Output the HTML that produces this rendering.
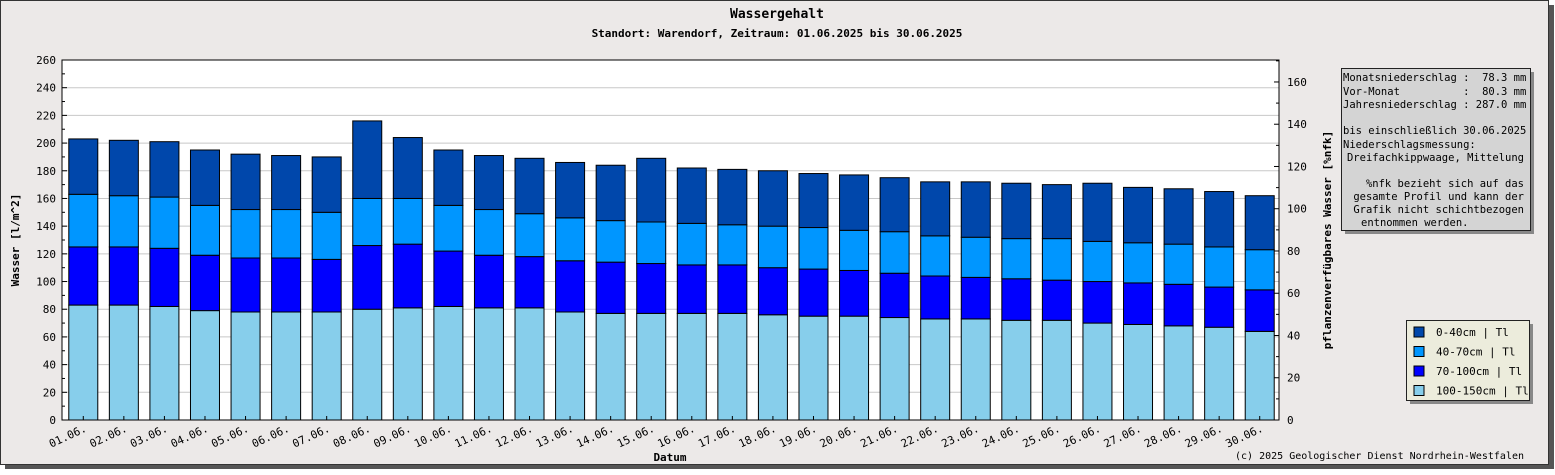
<!DOCTYPE html>
<html><head><meta charset="utf-8"><style>
body{margin:0;background:#fff;}
svg text{font-family:"DejaVu Sans Mono","Liberation Mono",monospace;}
</style></head><body>
<svg id="chart" width="1555" height="470" xmlns="http://www.w3.org/2000/svg">
<rect x="0" y="0" width="1555" height="470" fill="#ffffff"/>
<rect x="5" y="5" width="1549" height="464" fill="#555"/>
<rect x="0.5" y="0.5" width="1548" height="464" fill="#ece9e8" stroke="#333"/>
<text x="777" y="18" text-anchor="middle" font-size="13" font-weight="bold">Wassergehalt</text>
<text x="777" y="37" text-anchor="middle" font-size="11" font-weight="bold">Standort: Warendorf, Zeitraum: 01.06.2025 bis 30.06.2025</text>
<rect x="62" y="60" width="1217" height="360" fill="#fff"/>
<g id="grid"></g><g id="bars"></g><g id="axes"></g>
<text transform="translate(19,240) rotate(-90)" text-anchor="middle" font-size="11" font-weight="bold">Wasser [l/m^2]</text>
<text transform="translate(1331,240) rotate(-90)" text-anchor="middle" font-size="11" font-weight="bold">pflanzenverfügbares Wasser [%nfk]</text>
<text x="670" y="461" text-anchor="middle" font-size="11" font-weight="bold">Datum</text>
<text x="1524" y="459" text-anchor="end" font-size="10">(c) 2025 Geologischer Dienst Nordrhein-Westfalen</text>
<g>
<rect x="1345" y="72" width="189" height="162" fill="#888"/>
<rect x="1341.5" y="68.5" width="189" height="162" fill="#d4d4d4" stroke="#222"/>
<g font-size="10.5">
<text x="1343" y="81" xml:space="preserve">Monatsniederschlag :  78.3 mm</text>
<text x="1343" y="95" xml:space="preserve">Vor-Monat          :  80.3 mm</text>
<text x="1343" y="108" xml:space="preserve">Jahresniederschlag : 287.0 mm</text>
<text x="1343" y="134">bis einschließlich 30.06.2025</text>
<text x="1343" y="148">Niederschlagsmessung:</text>
<text x="1524" y="161" text-anchor="end">Dreifachkippwaage, Mittelung</text>
<text x="1524" y="187" text-anchor="end">%nfk bezieht sich auf das</text>
<text x="1524" y="200" text-anchor="end">gesamte Profil und kann der</text>
<text x="1524" y="213" text-anchor="end">Grafik nicht schichtbezogen</text>
<text x="1361" y="226">entnommen werden.</text>
</g></g>
<g id="legend">
<rect x="1410" y="324" width="123" height="80" fill="#888"/>
<rect x="1406.5" y="320.5" width="123" height="80" fill="#ececdc" stroke="#222"/>
</g>
</svg>
<script>
const dates=["01.06.","02.06.","03.06.","04.06.","05.06.","06.06.","07.06.","08.06.","09.06.","10.06.","11.06.","12.06.","13.06.","14.06.","15.06.","16.06.","17.06.","18.06.","19.06.","20.06.","21.06.","22.06.","23.06.","24.06.","25.06.","26.06.","27.06.","28.06.","29.06.","30.06."];
const layer100150=[83,83,82,79,78,78,78,80,81,82,81,81,78,77,77,77,77,76,75,75,74,73,73,72,72,70,69,68,67,64];
const layer70100=[42,42,42,40,39,39,38,46,46,40,38,37,37,37,36,35,35,34,34,33,32,31,30,30,29,30,30,30,29,30];
const layer4070=[38,37,37,36,35,35,34,34,33,33,33,31,31,30,30,30,29,30,30,29,30,29,29,29,30,29,29,29,29,29];
const layer040=[40,40,40,40,40,39,40,56,44,40,39,40,40,40,46,40,40,40,39,40,39,39,40,40,39,42,40,40,40,39];
const leftTicks=[0,20,40,60,80,100,120,140,160,180,200,220,240,260];
const rightTicks=[0,20,40,60,80,100,120,140,160];
const legendLabels=["0-40cm | Tl","40-70cm | Tl","70-100cm | Tl","100-150cm | Tl"];
const colors=["#0047ab","#0096ff","#0000ff","#87ceeb"];
const NS="http://www.w3.org/2000/svg";
const X0=62,X1=1279,Y0=420,Y1=60,YMAX=260,Y2MAX=170.4;
const y=v=>Y0-v/YMAX*(Y0-Y1);
const y2=v=>Y0-v/Y2MAX*(Y0-Y1);
const band=(X1-X0)/dates.length;
const xc=i=>X0+band*(i+0.5)+1;
function mk(tag,attrs,parent,txt){const e=document.createElementNS(NS,tag);for(const k in attrs)e.setAttribute(k,attrs[k]);if(txt!==undefined)e.textContent=txt;parent.appendChild(e);return e;}
const grid=document.getElementById('grid'),bars=document.getElementById('bars'),axes=document.getElementById('axes');
leftTicks.forEach(t=>{
 const l=mk('line',{x1:X0,x2:X1,y1:y(t),y2:y(t),stroke:'#c8c8c8'},grid);
 
 
 const tx=mk('text',{x:X0-6,y:y(t)+4,'text-anchor':'end','font-size':11},axes,t);
 
 
 mk('line',{x1:X0,x2:X0+5,y1:y(t),y2:y(t),stroke:'#000'},axes);
 if(t<YMAX)mk('line',{x1:X0,x2:X0+3,y1:y(t+10),y2:y(t+10),stroke:'#000'},axes);
});
rightTicks.forEach(t=>{
 const tx=mk('text',{x:X1+8,y:y2(t)+4,'font-size':11},axes,t);
 
 
 mk('line',{x1:X1-5,x2:X1,y1:y2(t),y2:y2(t),stroke:'#000'},axes);
 mk('line',{x1:X1-3,x2:X1,y1:y2(t+10),y2:y2(t+10),stroke:'#000'},axes);
});
const layers=[layer100150,layer70100,layer4070,layer040];
const layerColors=[colors[3],colors[2],colors[1],colors[0]];
dates.forEach((d,i)=>{
 let cum=0;
 layers.forEach((arr,k)=>{
  const v=arr[i];
  const r=mk('rect',{x:xc(i)-14.5,y:y(cum+v),width:29,height:y(cum)-y(cum+v),fill:layerColors[k],stroke:'#000','stroke-width':1},bars);
  
  
  cum+=v;
 });
 const tx=mk('text',{transform:`translate(${xc(i)+4},${Y0+11}) rotate(-25)`,'text-anchor':'end','font-size':11},axes,d);
 
 
 mk('line',{x1:xc(i),x2:xc(i),y1:Y0,y2:Y0-4,stroke:'#000'},axes);
});
mk('rect',{x:X0,y:Y1,width:X1-X0,height:Y0-Y1,fill:'none',stroke:'#000'},axes);
const lg=document.getElementById('legend');
legendLabels.forEach((lab,k)=>{
 const yy=332+k*19.5;
 const s=mk('rect',{x:1414,y:yy-5,width:10,height:10,fill:colors[k],stroke:'#000'},lg);
 
 
 const t=mk('text',{x:1436,y:yy+4,'font-size':11},lg,lab);
 
 
});
</script>
</body></html>
